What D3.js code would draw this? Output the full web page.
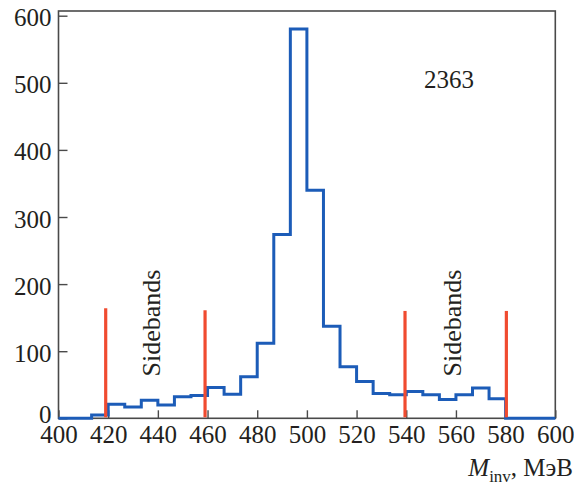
<!DOCTYPE html>
<html>
<head>
<meta charset="utf-8">
<script src="https://cdn.jsdelivr.net/npm/d3@7"></script>
<style>
  html, body { margin: 0; padding: 0; background: #fff; }
</style>
</head>
<body>
<svg id="chart" width="574" height="486"></svg>
<script>
// Invariant-mass histogram: 30 bins of 20/3 MeV between 400 and 600 MeV
const binLow = 400;
const binHigh = 600;
const counts = [0, 0, 5, 21, 17, 27, 20, 32, 34, 46,
                36, 62, 112, 274, 580, 340, 137, 77, 55, 37,
                35, 40, 35, 28, 35, 45, 29, 0, 0, 0];

// Sideband boundaries (MeV) and the height of their marker lines
const sidebandEdges = [419, 459, 539.5, 580.3];
const sidebandHeights = [164, 161, 160, 160];
const sidebandLabelX = [441, 562];

const xTicks = [400, 420, 440, 460, 480, 500, 520, 540, 560, 580, 600];
const yTicks = [0, 100, 200, 300, 400, 500, 600];
const totalLabel = "2363";

const serif = "'Liberation Serif', 'Times New Roman', Times, serif";
const ink = "#231f20";

const svg = d3.select("#chart");
const plotL = 58.5, plotR = 555.3, plotT = 11, plotB = 418.3;

const x = d3.scaleLinear().domain([binLow, binHigh]).range([plotL, plotR]);
const y = d3.scaleLinear().domain([0, 600]).range([plotB, 15.7]);

const binWidth = (binHigh - binLow) / counts.length;
const steps = [];
counts.forEach((c, i) => {
  steps.push([binLow + i * binWidth, c]);
  steps.push([binLow + (i + 1) * binWidth, c]);
});

const axisColor = "#4a4a4a";

// frame
svg.append("rect")
  .attr("x", plotL).attr("y", plotT)
  .attr("width", plotR - plotL).attr("height", plotB - plotT)
  .attr("fill", "none").attr("stroke", axisColor).attr("stroke-width", 1.6);

// axes with inward ticks
const xAxis = d3.axisBottom(x).tickValues(xTicks).tickSizeInner(-8).tickSizeOuter(0);
const gx = svg.append("g").attr("transform", `translate(0,${plotB})`).call(xAxis)
  .attr("font-family", serif).attr("font-size", 25);
gx.select(".domain").remove();
gx.selectAll(".tick line").attr("stroke", axisColor).attr("stroke-width", 1.4);
gx.selectAll(".tick text").attr("fill", ink).attr("y", 7).attr("dy", "0.71em");

const yAxis = d3.axisLeft(y).tickValues(yTicks).tickSizeInner(-9).tickSizeOuter(0);
const gy = svg.append("g").attr("transform", `translate(${plotL},0)`).call(yAxis)
  .attr("font-family", serif).attr("font-size", 25);
gy.select(".domain").remove();
gy.selectAll(".tick line").attr("stroke", axisColor).attr("stroke-width", 1.4);
gy.selectAll(".tick text").attr("fill", ink).attr("x", -7)
  .attr("dy", d => d === 0 ? "0.15em" : "0.4em");

// histogram outline
const line = d3.line().x(d => x(d[0])).y(d => y(d[1]));
svg.append("path")
  .datum(steps)
  .attr("d", line)
  .attr("fill", "none")
  .attr("stroke", "#1c5cb8")
  .attr("stroke-width", 3)
  .attr("stroke-linejoin", "miter");

// sideband markers
svg.selectAll("line.sb")
  .data(sidebandEdges)
  .join("line")
  .attr("class", "sb")
  .attr("x1", d => x(d)).attr("x2", d => x(d))
  .attr("y1", (d, i) => y(sidebandHeights[i]))
  .attr("y2", y(1.5))
  .attr("stroke", "#f04b30")
  .attr("stroke-width", 3.2);

// sideband labels
svg.selectAll("text.sbl")
  .data(sidebandLabelX)
  .join("text")
  .attr("class", "sbl")
  .attr("transform", d => `translate(${x(d)},${y(142)}) rotate(-90)`)
  .attr("text-anchor", "middle")
  .attr("font-family", serif)
  .attr("font-size", 26)
  .attr("fill", ink)
  .text("Sidebands");

// total count
svg.append("text")
  .attr("x", 424).attr("y", 88.3)
  .attr("font-family", serif)
  .attr("font-size", 25)
  .attr("fill", ink)
  .text(totalLabel);

// x-axis title
const title = svg.append("text")
  .attr("x", 573).attr("y", 476)
  .attr("text-anchor", "end")
  .attr("font-family", serif)
  .attr("font-size", 25)
  .attr("fill", ink);
title.append("tspan").attr("font-style", "italic").text("M");
title.append("tspan").attr("font-size", 17).attr("dy", 6).text("inv");
title.append("tspan").attr("dy", -6).text(", МэВ");
</script>
</body>
</html>
